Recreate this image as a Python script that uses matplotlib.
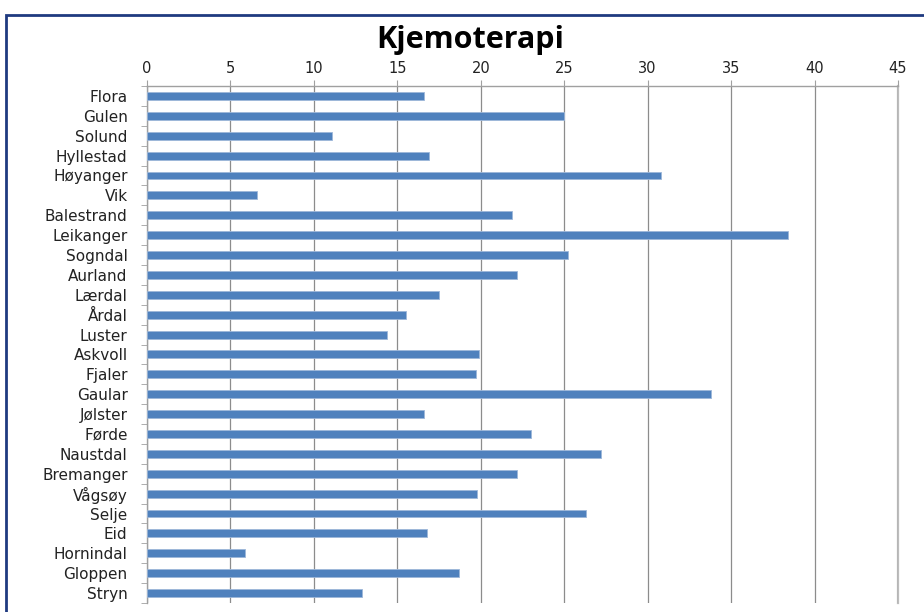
import matplotlib
matplotlib.use("Agg")
import matplotlib.pyplot as plt
from matplotlib.patches import Rectangle
import numpy as np

# kommunar i Sogn og Fjordane, ovanfrå og ned
kommunar = ["Flora", "Gulen", "Solund", "Hyllestad", "Høyanger", "Vik",
            "Balestrand", "Leikanger", "Sogndal", "Aurland", "Lærdal", "Årdal",
            "Luster", "Askvoll", "Fjaler", "Gaular", "Jølster", "Førde",
            "Naustdal", "Bremanger", "Vågsøy", "Selje", "Eid", "Hornindal",
            "Gloppen", "Stryn"]
verdiar = [16.6, 25.0, 11.1, 16.9, 30.8, 6.6,
           21.9, 38.4, 25.2, 22.2, 17.5, 15.5,
           14.4, 19.9, 19.7, 33.8, 16.6, 23.0,
           27.2, 22.2, 19.8, 26.3, 16.8, 5.9,
           18.7, 12.9]
x_ticks = [0, 5, 10, 15, 20, 25, 30, 35, 40, 45]

fig = plt.figure(figsize=(9.24, 6.12), dpi=100)
ax = fig.add_axes([147 / 924, 1 - 603 / 612, 751 / 924, 517 / 612])

y = np.arange(len(kommunar))
ax.barh(y, verdiar, height=0.4, color="#4F81BD", edgecolor="#9DB7D9",
        linewidth=0.6, zorder=3)

ax.set_ylim(len(kommunar) - 0.5, -0.5)
ax.set_xlim(0, 45)

# x-aksen øvst
ax.xaxis.tick_top()
ax.set_xticks(x_ticks)
ax.set_xticklabels([str(t) for t in x_ticks], fontsize=10.5, color="#222222")
ax.tick_params(axis="x", length=4, color="#A0A0A0", pad=3)
ax.grid(axis="x", color="#8C8C8C", linewidth=0.9, zorder=0)
# siste rutenettlinje ligg på kanten og vert elles klipt bort
ax.axvline(45, color="#BDBDBD", linewidth=1.6, clip_on=False, zorder=1)

# kategoriar med små strekar mellom radene
ax.set_yticks(y)
ax.set_yticklabels(kommunar, fontsize=11, color="#222222")
ax.set_yticks(np.arange(len(kommunar) + 1) - 0.5, minor=True)
ax.tick_params(axis="y", which="major", length=0, pad=14)
ax.tick_params(axis="y", which="minor", length=4, color="#A0A0A0")

for side in ["bottom", "right"]:
    ax.spines[side].set_visible(False)
for side in ["top", "left"]:
    ax.spines[side].set_color("#A0A0A0")
    ax.spines[side].set_linewidth(1.0)

fig.text(470 / 924, 1 - 40 / 612, "Kjemoterapi", ha="center", va="center",
         fontsize=22, fontweight="bold", family="Open Sans")

# ramme rundt heile diagrammet
fig.patches.append(Rectangle((6 / 924, -0.05), 1.1, 1 - 15 / 612 + 0.05,
                             transform=fig.transFigure, fill=False,
                             edgecolor="#1F3A80", linewidth=2.0))

fig.savefig("out.png", dpi=100)
